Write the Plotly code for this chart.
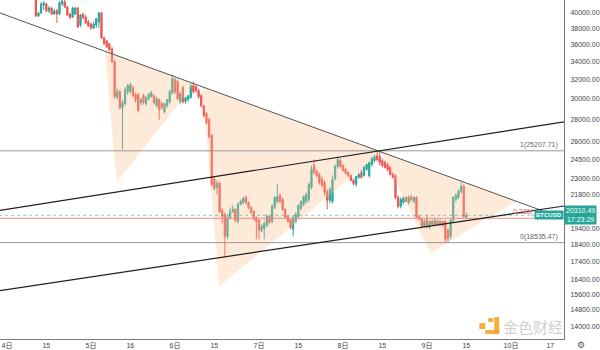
import numpy as np
import plotly.graph_objects as go

# ---- BTCUSD 45-minute candles (bar index counted from the 4th, 00:00) ----
first_bar = 11
opens = [42340, 39600, 40000, 41080, 41220, 40270, 40670, 39870, 40270, 39870,
         41220, 41500, 40810, 39870, 39470, 39870, 40670, 38430, 39870, 39470,
         38820, 38560, 38040, 38430, 38820, 40000, 36800, 36430, 36070, 35470,
         33960, 30220, 30730, 29130, 29520, 30730, 30730, 31140, 30420, 30420,
         29620, 30320, 29520, 30020, 30220, 30320, 29320, 29915, 29520, 28740,
         29320, 29720, 30620, 31980, 31770, 29720, 31140, 29720, 29915, 30120,
         31350, 31240, 30830, 30320, 29320, 28550, 27980, 26530, 22900, 22300,
         22600, 20650, 20380, 18930, 20170, 20580, 20720, 19900, 21070, 21210,
         21570, 21210, 20860, 20580, 20170, 19970, 19320, 19450, 19640, 20240,
         19900, 20860, 21280, 21710, 21420, 20720, 20240, 20040, 19380, 19900,
         20240, 20790, 21070, 21280, 21420, 22300, 24000, 23520, 23290, 22900,
         22670, 22000, 21350, 21280, 22980, 23920, 24400, 24000, 23680, 23440,
         23210, 22830, 22520, 23050, 23440, 23210, 23680, 23210, 24080, 24400,
         24810, 24730, 24400, 24240, 24080, 23840, 23370, 23210, 21570, 20930,
         21210, 21570, 21210, 21570, 21280, 21570, 20240, 20100, 19580, 20040,
         19510, 19900, 19640, 19900, 19710, 19900, 19900, 19320, 18930, 19970,
         21420, 21570, 22000, 22370, 20170]
highs = [42910, 40130, 41500, 41640, 41360, 40950, 40810, 40540, 40540, 41640,
         42050, 41770, 40950, 40000, 40810, 40810, 40810, 39870, 40000, 39730,
         39080, 38690, 38820, 39340, 40130, 40130, 36920, 36550, 36190, 35710,
         34190, 31140, 30930, 29915, 31240, 31560, 31660, 31350, 30620, 30620,
         30120, 30520, 30320, 30620, 30830, 30420, 30220, 30020, 29720, 29620,
         30020, 30930, 32520, 32200, 31980, 30730, 31350, 30220, 30420, 31560,
         31770, 31450, 31040, 30520, 29420, 28740, 28170, 26700, 23130, 22830,
         22750, 20790, 20520, 20380, 20860, 21000, 20790, 21210, 21420, 21640,
         21710, 21280, 20930, 20650, 20240, 20040, 19710, 19900, 20380, 20310,
         21070, 21640, 22520, 21860, 21570, 20790, 20310, 20100, 20310, 20520,
         21070, 21350, 21710, 21930, 22670, 24000, 24480, 23680, 23440, 23130,
         22830, 22150, 22300, 23210, 24080, 24730, 24560, 24080, 23760, 23520,
         23290, 22980, 23210, 23440, 23680, 24000, 24160, 24320, 24730, 24900,
         25207.71, 25150, 24560, 24400, 24240, 24000, 23440, 23290, 21710, 21570,
         21640, 21640, 21710, 21780, 21640, 21640, 20310, 20170, 20040, 20310,
         19970, 20040, 20100, 20040, 20040, 19970, 19970, 19450, 20100, 21640,
         21860, 22150, 22670, 22520, 20520]
lows = [39470, 39470, 39870, 40400, 40130, 40000, 39730, 39730, 38690, 39730,
        40950, 40670, 39600, 39210, 39340, 39730, 38040, 38170, 39210, 38560,
        38170, 37790, 37920, 38040, 38040, 36680, 35950, 35590, 35230, 33850,
        30020, 29915, 28930, 25315, 29320, 30420, 30520, 30120, 29620, 28650,
        29320, 29420, 29320, 29820, 30120, 29420, 29130, 27980, 28930, 28550,
        29130, 29520, 30420, 30520, 29820, 29520, 29520, 29520, 29720, 30020,
        30520, 30620, 30020, 29130, 28170, 27520, 26260, 22370, 22080, 21780,
        20450, 19770, 17650, 18740, 20040, 20450, 19840, 19770, 21000, 21070,
        21070, 20720, 20380, 19970, 18740, 18740, 19190, 18740, 19510, 19710,
        19770, 20720, 21140, 21140, 20580, 20100, 19840, 19380, 18930, 19770,
        20100, 20650, 20930, 21140, 21210, 22150, 23290, 23050, 22520, 22300,
        21710, 20720, 21140, 21140, 22830, 23760, 23760, 23520, 23290, 23050,
        22750, 22450, 22370, 22980, 22980, 23130, 23600, 23050, 23920, 24240,
        24320, 24000, 23840, 23760, 23520, 23210, 22980, 21420, 20790, 20790,
        21070, 21210, 21070, 21280, 21140, 20100, 19970, 19450, 19510, 19450,
        19380, 19580, 19580, 19580, 19580, 19510, 18535.47, 18560, 18740, 19840,
        21280, 21420, 21860, 20100, 20100]
closes = [39600, 40000, 41220, 41360, 40270, 40670, 39870, 40270, 39870, 41360,
          41640, 40810, 39730, 39340, 40670, 40670, 38170, 39730, 39340, 38690,
          38300, 38040, 38560, 39210, 40000, 36800, 36070, 35710, 35350, 33960,
          30220, 30730, 29130, 29620, 30930, 31350, 31450, 30320, 29915, 28840,
          29915, 29620, 30120, 30420, 30620, 29620, 30020, 28930, 29130, 29520,
          29915, 30730, 32090, 30730, 30020, 30520, 29720, 30120, 30320, 31350,
          30730, 30830, 30220, 29320, 28360, 27700, 26440, 22520, 22220, 22600,
          20580, 20240, 18930, 20170, 20580, 20720, 19970, 21070, 21280, 21500,
          21210, 20860, 20520, 20100, 19900, 19320, 19580, 19770, 20240, 19840,
          20930, 21570, 21640, 21280, 20720, 20170, 19900, 19510, 20170, 20380,
          21000, 21280, 21640, 21780, 22520, 23680, 23440, 23210, 22670, 22450,
          21930, 21350, 22150, 22900, 23920, 24480, 23920, 23600, 23370, 23210,
          22830, 22600, 23130, 23290, 23050, 23840, 24080, 24240, 24560, 24730,
          24480, 24240, 24000, 23840, 23680, 23290, 23050, 21570, 20930, 21420,
          21500, 21280, 21570, 21420, 21570, 20170, 20040, 19580, 19900, 19580,
          19900, 19710, 19970, 19710, 19900, 19640, 18740, 18800, 19970, 21570,
          21710, 22000, 22370, 20240, 20310.49]
bar_index = list(range(first_bar, first_bar + len(closes)))

last_price = 20310.49
countdown = "17:23:29"

# ---- axis labels ----
bars_per_day = 32
day_labels = ["4日", "15", "5日", "16", "6日", "15", "7日", "15",
              "8日", "15", "9日", "15", "10日", "17"]
day_tick_pos = []
for d in range(7):
    day_tick_pos += [d * bars_per_day, d * bars_per_day + 15]

price_ticks = [40000, 38000, 36000, 34000, 32000, 30000, 28000, 26000, 24500,
               23000, 21800, 19400, 18400, 17400, 16400, 15600, 14800, 14000]

# ---- drawings (bar index, price) ----
fib_high = 25207.71
fib_low = 18535.47
fib_236 = fib_low + 0.236 * (fib_high - fib_low)

resistance_line = [(-3, 40040), (204, 20620)]
channel_upper = [(-3, 20640), (214, 27850)]
channel_lower = [(-3, 15780), (214, 21005)]

triangles = [
    [(37.2, 35230), (41.8, 22670), (71.4, 31560)],
    [(74.4, 31240), (80.9, 16020), (142.7, 25110)],
    [(142.7, 25110), (161.3, 17890), (194.0, 21310)],
]

x_min, x_max = -2.66, 212.2
y_min, y_max = 13422, 41774

GREEN = "#26a69a"
RED = "#ef5350"
FONT = "Liberation Sans, Noto Sans CJK SC, sans-serif"

fig = go.Figure()

for tri in triangles:
    xs = [p[0] for p in tri] + [tri[0][0]]
    ys = [p[1] for p in tri] + [tri[0][1]]
    fig.add_trace(go.Scatter(x=xs, y=ys, mode="lines", fill="toself",
                             fillcolor="rgba(251,190,140,0.33)",
                             line=dict(width=0), hoverinfo="skip"))

fig.add_trace(go.Candlestick(
    x=bar_index, open=opens, high=highs, low=lows, close=closes,
    increasing=dict(line=dict(color=GREEN, width=1), fillcolor=GREEN),
    decreasing=dict(line=dict(color=RED, width=1), fillcolor=RED),
    whiskerwidth=0, hoverinfo="skip"))

# horizontal levels
def hline(price, color, width=1, dash="solid"):
    fig.add_trace(go.Scatter(x=[-3, 214], y=[price, price], mode="lines",
                             line=dict(color=color, width=width, dash=dash),
                             hoverinfo="skip"))

hline(fib_high, "#9a9a9a")
hline(fib_low, "#9a9a9a")
hline(fib_236, "#ee8a8a")
hline(last_price, "rgba(38,166,154,0.55)", dash="dot")

for line, color, w in [(resistance_line, "#555555", 1),
                       (channel_upper, "#1e1e1e", 1.2),
                       (channel_lower, "#1e1e1e", 1.2)]:
    fig.add_trace(go.Scatter(x=[p[0] for p in line], y=[p[1] for p in line],
                             mode="lines", line=dict(color=color, width=w),
                             hoverinfo="skip"))

annotations = [
    dict(x=210.5, y=np.log10(fib_high), xref="x", yref="y", text="1(25207.71)",
         xanchor="right", yanchor="bottom", showarrow=False,
         font=dict(size=7, color="#666666", family=FONT)),
    dict(x=210.5, y=np.log10(fib_low), xref="x", yref="y", text="0(18535.47)",
         xanchor="right", yanchor="bottom", showarrow=False,
         font=dict(size=7, color="#666666", family=FONT)),
    dict(x=201.5, y=np.log10(fib_236), xref="x", yref="y", text="0.236(",
         xanchor="right", yanchor="bottom", showarrow=False,
         font=dict(size=7, color="#e06666", family=FONT)),
    dict(x=1.0, y=np.log10(last_price) + 0.0003, xref="paper", yref="y",
         text="<b>BTCUSD</b>", xanchor="right", yanchor="middle", showarrow=False,
         bgcolor=GREEN, borderpad=1, font=dict(size=6, color="white", family=FONT)),
    dict(x=1.0, y=np.log10(last_price) + 0.0003, xref="paper", yref="y",
         text=f"{last_price:.2f}<br>{countdown}", xanchor="left", yanchor="middle",
         showarrow=False, bgcolor=GREEN, borderpad=1, align="center",
         font=dict(size=7, color="white", family=FONT)),
    dict(x=535 / 566, y=(340 - 327) / 340, xref="paper", yref="paper",
         text="金色财经", showarrow=False, xanchor="center", yanchor="middle",
         font=dict(size=15, color="rgba(165,165,165,0.55)",
                   family="Noto Sans CJK SC")),
    dict(x=583 / 566, y=(340 - 346) / 340, xref="paper", yref="paper",
         text="⚙", showarrow=False, xanchor="center", yanchor="middle",
         font=dict(size=9, color="#555555", family="DejaVu Sans")),
]

# watermark logo blocks (pixel boxes inside the plot area)
logo_boxes = [(481, 324, 487, 330), (490, 319, 495, 323),
              (496, 318, 501, 335), (487, 331, 501, 335)]
shapes = []
for x0, y0, x1, y1 in logo_boxes:
    shapes.append(dict(type="rect", xref="paper", yref="paper",
                       x0=x0 / 566, x1=x1 / 566,
                       y0=(340 - y1) / 340, y1=(340 - y0) / 340,
                       fillcolor="rgba(245,166,35,0.9)", line=dict(width=0),
                       layer="above"))

fig.update_layout(
    width=600, height=350,
    margin=dict(l=0, r=34, t=0, b=10),
    paper_bgcolor="white", plot_bgcolor="white",
    showlegend=False,
    annotations=annotations,
    shapes=shapes,
    xaxis=dict(range=[x_min, x_max], tickvals=day_tick_pos, ticktext=day_labels,
               showgrid=False, zeroline=False, showline=True, linecolor="#7a7a7a",
               linewidth=1, ticks="", rangeslider=dict(visible=False),
               tickfont=dict(size=7, color="#444444", family=FONT)),
    yaxis=dict(type="log", range=[np.log10(y_min), np.log10(y_max)],
               side="right", tickvals=price_ticks,
               ticktext=[f"{v:.2f}" for v in price_ticks],
               showgrid=False, zeroline=False, showline=True, linecolor="#7a7a7a",
               linewidth=1, ticks="", ticklabelstandoff=4,
               tickfont=dict(size=7, color="#444444", family=FONT)),
)

fig.write_html("out.html", config={"displayModeBar": False})
